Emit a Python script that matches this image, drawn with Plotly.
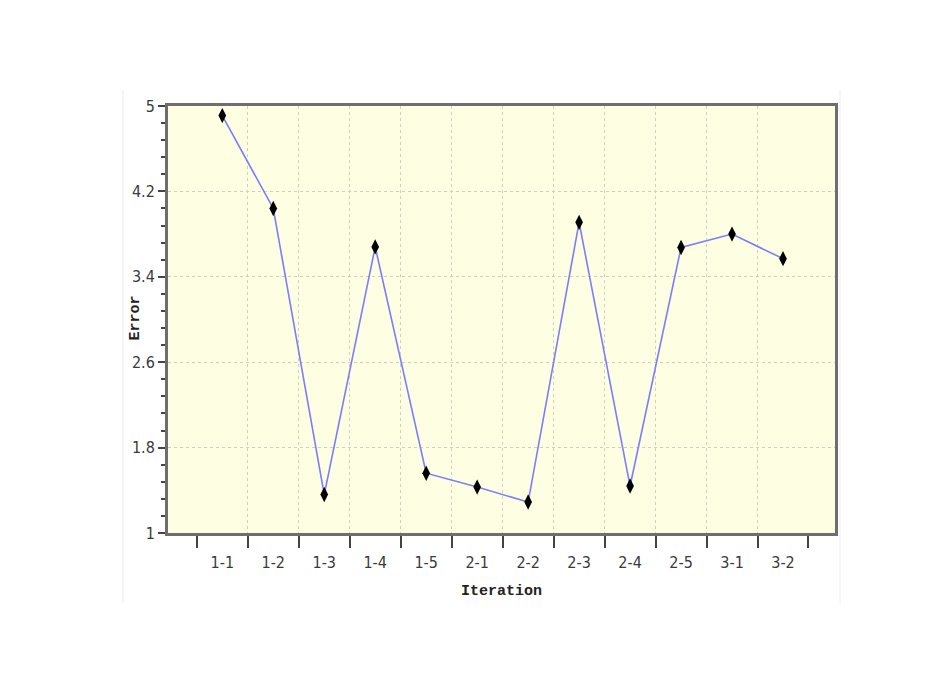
import plotly.graph_objects as go

categories = ["1-1", "1-2", "1-3", "1-4", "1-5", "2-1", "2-2", "2-3", "2-4", "2-5", "3-1", "3-2"]
errors = [4.91, 4.04, 1.36, 3.68, 1.56, 1.43, 1.29, 3.91, 1.44, 3.675, 3.80, 3.57]
y_ticks = [1, 1.8, 2.6, 3.4, 4.2, 5]
y_ticktext = ["1", "1.8", "2.6", "3.4", "4.2", "5"]

idx = list(range(len(categories)))
boundaries = [i - 0.5 for i in range(len(categories) + 1)]
inner_bounds = boundaries[1:-1]

tick_font = dict(family="DejaVu Sans Condensed, Liberation Sans Narrow, sans-serif", size=16, color="#3a3a3a")
title_font = dict(family="Liberation Mono, DejaVu Sans Mono, monospace", size=15, color="#222222")

fig = go.Figure()
fig.add_trace(go.Scatter(
    x=idx, y=errors, mode="lines+markers",
    line=dict(color="#7c7cff", width=1.6),
    marker=dict(symbol="diamond-tall", size=11, color="black"),
    showlegend=False,
))

fig.update_layout(
    width=951, height=680,
    margin=dict(l=160, r=124, t=98, b=155),
    paper_bgcolor="white",
    plot_bgcolor="#fefee3",
    xaxis=dict(
        range=[-1.065, 12.02],
        tickmode="array", tickvals=idx, ticktext=categories,
        ticks="outside", ticklen=13, tickcolor="rgba(0,0,0,0)",
        tickfont=tick_font,
        showgrid=False, zeroline=False,
        showline=True, linecolor="#6e6e6e", linewidth=3, mirror=True,
        minor=dict(tickmode="array", tickvals=boundaries, ticks="outside",
                   ticklen=12, tickcolor="#444444", tickwidth=1.5, showgrid=False),
        title=dict(text="<b>Iteration</b>", font=title_font, standoff=14),
    ),
    xaxis2=dict(
        overlaying="x", matches="x", side="bottom",
        tickmode="array", tickvals=inner_bounds, showticklabels=False,
        ticks="", showgrid=True, gridcolor="#cfcfc2", griddash="dot", gridwidth=1,
        zeroline=False, showline=False,
    ),
    yaxis=dict(
        range=[1, 5],
        tickmode="array", tickvals=y_ticks, ticktext=y_ticktext,
        ticks="outside", ticklen=7, tickcolor="#444444", tickwidth=1.5,
        tickfont=tick_font,
        showgrid=True, gridcolor="#cfcfc2", griddash="dot", gridwidth=1,
        zeroline=False,
        showline=True, linecolor="#6e6e6e", linewidth=3, mirror=True,
        minor=dict(tick0=1, dtick=0.16, ticks="outside", ticklen=4,
                   tickcolor="#444444", tickwidth=1.5, showgrid=False),
    ),
    annotations=[
        dict(text="<b>Error</b>", xref="paper", yref="paper", x=-0.049, y=0.503,
             textangle=-90, showarrow=False, font=title_font,
             xanchor="center", yanchor="middle"),
    ],
    shapes=[
        dict(type="line", xref="paper", yref="paper", x0=-0.0675, x1=-0.0675, y0=-0.164, y1=1.0375,
             line=dict(color="#ececec", width=1)),
        dict(type="line", xref="paper", yref="paper", x0=1.0075, x1=1.0075, y0=-0.164, y1=1.0375,
             line=dict(color="#ececec", width=1)),
    ],
)

# invisible helper trace so the gridline axis is drawn
fig.add_trace(go.Scatter(x=[0], y=[1], xaxis="x2", mode="markers",
                         marker=dict(opacity=0), showlegend=False, hoverinfo="skip"))

fig.write_html("out.html")
